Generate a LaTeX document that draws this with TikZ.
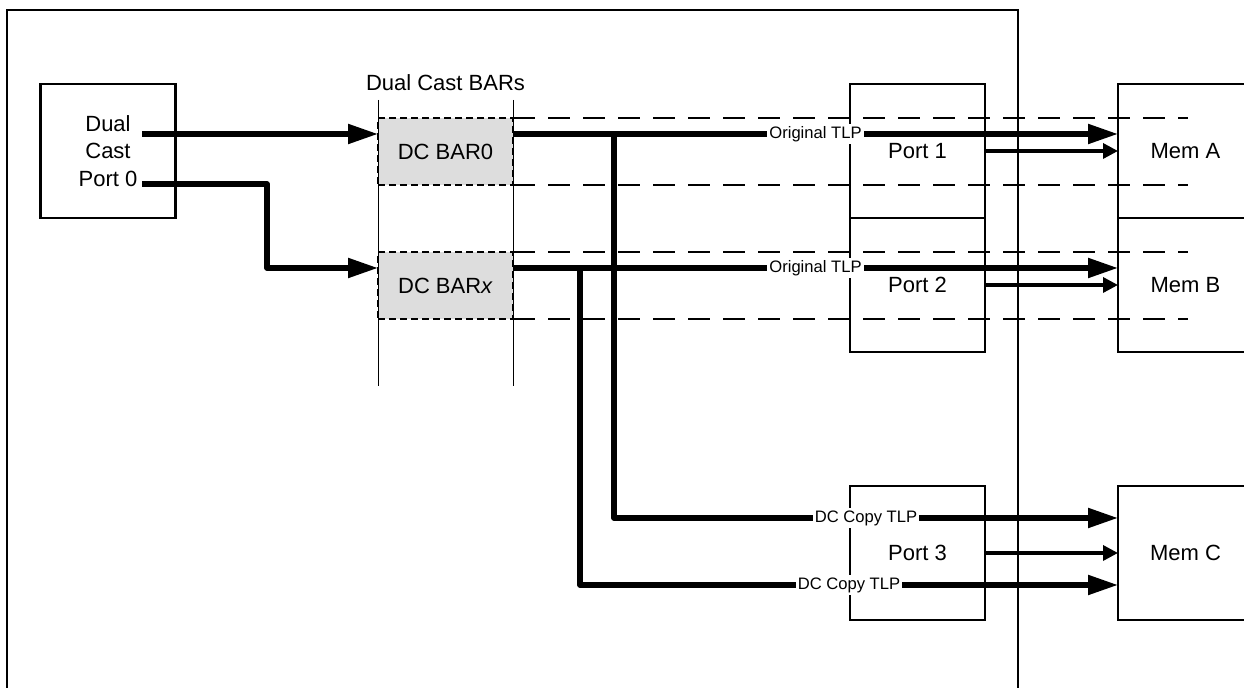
\documentclass[tikz,border=0pt]{standalone}
\usepackage{fontspec}
\setmainfont{Liberation Sans}
\usetikzlibrary{positioning,arrows.meta}
\definecolor{barfill}{RGB}{221,221,221}

\begin{document}
\begin{tikzpicture}[x=0.5pt,y=-0.5pt,
  box/.style={draw,line width=1.1pt,minimum width=67.5pt,minimum height=67pt,
    inner sep=0pt,outer sep=0pt,font=\fontsize{11}{13.75}\selectfont,align=center},
  barbox/.style={box,fill=barfill,dash pattern=on 3.5pt off 2pt,minimum height=33.5pt},
  guide/.style={line width=1.2pt,dash pattern=on 11pt off 6.5pt},
  bus/.style={line width=2.6pt,line join=round},
  busarrow/.style={bus,-{Triangle[length=15pt,width=9.5pt]}},
  sidearrow/.style={line width=1.7pt,-{Triangle[length=7.5pt,width=7.5pt]}},
  tlp/.style={fill=white,inner sep=1pt,font=\fontsize{8.3}{10}\selectfont}]

  \useasboundingbox (0,0) rectangle (1244,688);
  \clip (0,0) rectangle (1244,688);

  % outer frame
  \draw[line width=1.1pt] (7,700) -- (7,10) -- (1018,10) -- (1018,700);

  \node[box] (port0) at (108,151) {Dual\\Cast\\Port 0};
  \node[barbox] (bar0) at (445.5,151.5) {DC BAR0};
  \node[barbox] (barx) [below=33.5pt of bar0] {DC BAR\textit{x}};
  \node[font=\fontsize{11}{13}\selectfont,inner sep=0pt] (barslbl) [above=13.5pt of bar0] {Dual Cast BARs};

  \node[box] (port1) at (917.5,151) {Port 1};
  \node[box] (port2) [below=0pt of port1] {Port 2};
  \node[box] (port3) [below=67pt of port2] {Port 3};
  \node[box] (mema) [right=66.5pt of port1] {Mem A};
  \node[box] (memb) [below=0pt of mema] {Mem B};
  \node[box] (memc) [right=66.5pt of port3] {Mem C};

  % BAR window
  \draw[line width=0.5pt] ([yshift=9pt]bar0.north west) -- ([yshift=-33.5pt]barx.south west);
  \draw[line width=0.5pt] ([yshift=9pt]bar0.north east) -- ([yshift=-33.5pt]barx.south east);

  \coordinate (guideend) at (1188,0);
  \foreach \b in {bar0,barx} {
    \draw[guide] (\b.north east) -- (\b.north east -| guideend);
    \draw[guide] (\b.south east) -- (\b.south east -| guideend);
  }

  \coordinate (p0out) at (142,134);
  \coordinate (p0low) at (142,184);
  \coordinate (splita) at (614,134);
  \coordinate (splitx) at (580,268);

  \draw[busarrow] (p0out) -- (bar0.west |- p0out);
  \draw[busarrow] (p0low) -- ++(125,0) |- (barx.west |- splitx);

  \draw[busarrow] (splita) |- ([yshift=17.5pt]memc.west) node[tlp,pos=0.75] {DC Copy TLP};
  \draw[busarrow] (splitx) |- ([yshift=-16pt]memc.west) node[tlp,pos=0.75] {DC Copy TLP};
  \draw[busarrow] (bar0.east |- splita) -- (mema.west |- splita) node[tlp,midway] {Original TLP};
  \draw[busarrow] (barx.east |- splitx) -- (memb.west |- splitx) node[tlp,midway] {Original TLP};

  \draw[sidearrow] (port1.east) -- (mema.west);
  \draw[sidearrow] (port2.east) -- (memb.west);
  \draw[sidearrow] (port3.east) -- (memc.west);
\end{tikzpicture}
\end{document}
